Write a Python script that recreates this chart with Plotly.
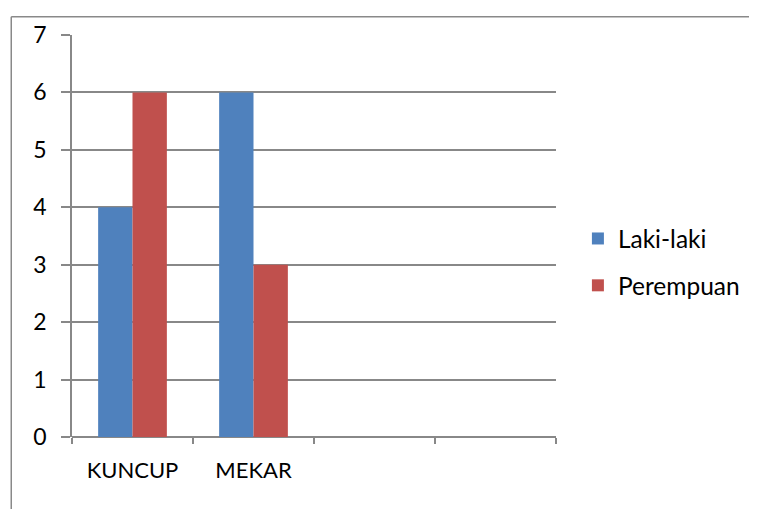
import plotly.graph_objects as go

categories = ["KUNCUP", "MEKAR", " ", "  "]
laki = [4, 6, None, None]
perempuan = [6, 3, None, None]
y_ticks = [0, 1, 2, 3, 4, 5, 6, 7]

# page body has 8px margin; work in figure coordinates
OFF = 8
W, H = 757 - OFF, 509 - OFF
L, R, T, B = 72 - OFF, 558 - OFF, 28 - OFF, 437 - OFF

fig = go.Figure()
fig.add_trace(go.Bar(name="Laki-laki", x=categories, y=laki, marker_color="#4F81BD",
                     marker_line_width=0, legendgroup="a"))
fig.add_trace(go.Bar(name="Perempuan", x=categories, y=perempuan, marker_color="#C0504D",
                     marker_line_width=0, legendgroup="b"))

def px_x(p):
    return (p - OFF - L) / (R - L)

def px_y(p):
    return (B - (p - OFF)) / (B - T)

fig.update_layout(
    width=W, height=H,
    margin=dict(l=L, r=W - R, t=T, b=H - B, pad=0),
    paper_bgcolor="white", plot_bgcolor="white",
    font=dict(family="Lato, Open Sans, sans-serif", size=22, color="black"),
    barmode="group", bargap=0.432, bargroupgap=0,
    showlegend=True,
    legend=dict(x=px_x(580), xanchor="left", y=px_y(259), yanchor="middle",
                tracegroupgap=12, font=dict(size=24.5), bgcolor="rgba(0,0,0,0)"),
    xaxis=dict(type="category", categoryorder="array", categoryarray=categories,
               range=[-0.5, 3.5], showgrid=False, showline=False, zeroline=False,
               ticks="outside", tickson="boundaries", ticklen=6, tickcolor="#888888",
               tickwidth=1.5, ticklabelstandoff=18),
    yaxis=dict(range=[0, 7], tickvals=y_ticks, showgrid=True, gridcolor="#888888",
               gridwidth=1.5, showline=True, linecolor="#888888", linewidth=1.5,
               zeroline=True, zerolinecolor="#888888", zerolinewidth=1.5,
               ticks="outside", ticklen=9, tickcolor="#888888", tickwidth=1.5,
               tickfont=dict(size=23), ticklabelstandoff=10),
    shapes=[
        dict(type="line", xref="paper", yref="paper", x0=px_x(11), x1=px_x(800),
             y0=px_y(9.5), y1=px_y(9.5), line=dict(color="#898989", width=1.5)),
        dict(type="line", xref="paper", yref="paper", x0=px_x(11), x1=px_x(11),
             y0=px_y(9.5), y1=px_y(560), line=dict(color="#898989", width=1.5)),
    ],
)

fig.write_html("out.html")
